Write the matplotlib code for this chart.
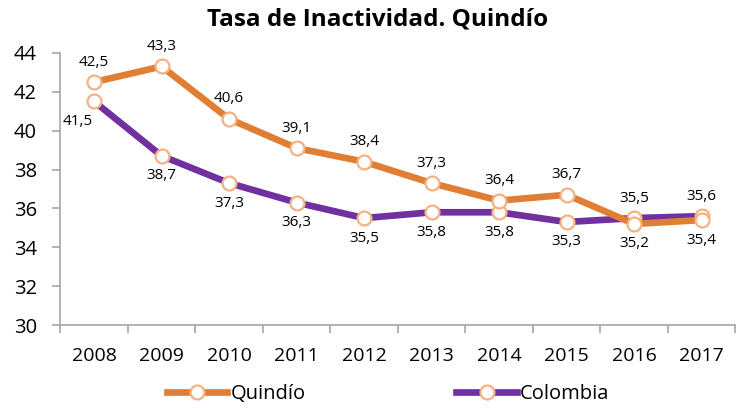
import matplotlib
matplotlib.use("Agg")
import matplotlib.pyplot as plt
import numpy as np

years = ["2008", "2009", "2010", "2011", "2012", "2013", "2014", "2015", "2016", "2017"]
quindio = [42.5, 43.3, 40.6, 39.1, 38.4, 37.3, 36.4, 36.7, 35.2, 35.4]
colombia = [41.5, 38.7, 37.3, 36.3, 35.5, 35.8, 35.8, 35.3, 35.5, 35.6]
# label placement: 1 above, -1 below
q_pos = [1, 1, 1, 1, 1, 1, 1, 1, -1, -1]
c_pos = [-1, -1, -1, -1, -1, -1, -1, -1, 1, 1]

plt.rcParams['font.family'] = ['Open Sans', 'DejaVu Sans']

fig = plt.figure(figsize=(7.55, 4.08), dpi=100)
ax = fig.add_axes([0.08, 0.2034, 0.894, 0.667])

x = np.arange(len(years))
orange = "#E07E34"
purple = "#7030A0"
mk_edge = "#F4B183"

ax.plot(x, colombia, color=purple, lw=4.8, marker='o', ms=10, mfc='white',
        mec=mk_edge, mew=1.6, label="Colombia", zorder=3)
ax.plot(x, quindio, color=orange, lw=4.8, marker='o', ms=10, mfc='white',
        mec=mk_edge, mew=1.6, label="Quindío", zorder=4)

def fmt(v):
    return f"{v:.1f}".replace(".", ",")

for i, (v, p) in enumerate(zip(quindio, q_pos)):
    ax.annotate(fmt(v), (x[i], v), xytext=(0, 9 * p), textcoords='offset points',
                ha='center', va='bottom' if p > 0 else 'top', fontsize=11, zorder=6)
for i, (v, p) in enumerate(zip(colombia, c_pos)):
    dx = -12 if i == 0 else 0
    ax.annotate(fmt(v), (x[i], v), xytext=(dx, 9 * p), textcoords='offset points',
                ha='center', va='bottom' if p > 0 else 'top', fontsize=11, zorder=6)

ax.set_xlim(-0.5, len(years) - 0.5)
ax.set_ylim(30, 44)
ax.set_yticks(np.arange(30, 45, 2))
ax.set_xticks(x)
ax.set_xticklabels(years, fontsize=14)
ax.tick_params(axis='y', labelsize=14.5, color='#A6A6A6', length=6, width=1.2, pad=11)
ax.tick_params(axis='x', length=0, pad=16)
ax.set_xticks(np.arange(-0.5, len(years), 1), minor=True)
ax.tick_params(axis='x', which='minor', length=6, color='#A6A6A6', width=1.2)

for s in ['top', 'right']:
    ax.spines[s].set_visible(False)
for s in ['left', 'bottom']:
    ax.spines[s].set_color('#A6A6A6')
    ax.spines[s].set_linewidth(1.2)

fig.text(0.5, 0.952, "Tasa de Inactividad. Quindío", ha='center', va='center',
         fontsize=17.5, fontweight='bold')

h, l = ax.get_legend_handles_labels()
fig.legend(h[::-1], l[::-1], loc='center', bbox_to_anchor=(0.514, 0.035), ncol=2,
           frameon=False, fontsize=14.5, handlelength=3, columnspacing=7.5,
           handletextpad=0.15)

fig.savefig("out.png", dpi=100)
